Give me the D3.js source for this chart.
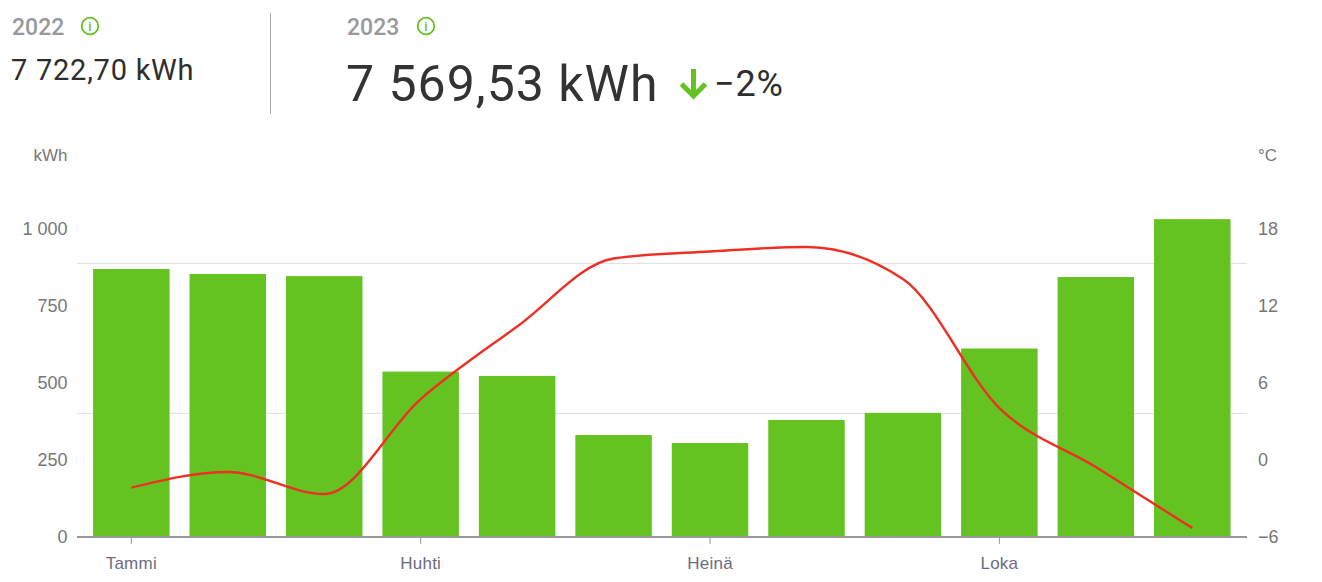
<!DOCTYPE html>
<html><head><meta charset="utf-8">
<script src="https://cdn.jsdelivr.net/npm/d3@7"></script>
<style>html,body{margin:0;padding:0;background:#fff}svg{display:block}text{font-family:"Liberation Sans",sans-serif}</style>
</head><body><svg id="c" width="1322" height="582"></svg>
<script>
const months=["Tammi","Helmi","Maalis","Huhti","Touko","Kesä","Heinä","Elo","Syys","Loka","Marras","Joulu"];
const kwh=[870,854,847,537,523,331,305,380,403,612,844,1032];
const temp=[-2.15,-0.93,-2.65,4.75,10.4,15.7,16.25,16.6,14.1,4.05,-0.55,-5.3];
const kwhTicks=[0,250,500,750,1000];
const tempTicks=[-6,0,6,12,18];
const monthTicks=["Tammi","Huhti","Heinä","Loka"];
const gridKwh=[403,890];
const svg=d3.select("#c");
const x=d3.scaleBand().domain(months).range([83.1,1240.5]).paddingInner(0.207).paddingOuter(0.1035);
const yL=d3.scaleLinear().domain([0,1000]).range([537,229]);
const yR=d3.scaleLinear().domain([-6,18]).range([537,229]);
const cx=m=>x(m)+x.bandwidth()/2;
const fmt=v=>v>=1000?d3.format(",")(v).replace(","," "):String(v);
svg.append("g").selectAll("line").data(gridKwh).join("line").attr("x1",77).attr("x2",1247)
 .attr("y1",d=>yL(d)+.5).attr("y2",d=>yL(d)+.5).attr("stroke","#e0e0e0");
svg.append("g").selectAll("rect").data(months).join("rect").attr("x",d=>x(d)).attr("width",x.bandwidth())
 .attr("y",(d,i)=>yL(kwh[i])).attr("height",(d,i)=>537-yL(kwh[i])).attr("fill","#64c320");
svg.append("line").attr("x1",77).attr("x2",1247).attr("y1",537).attr("y2",537).attr("stroke","#999").attr("stroke-width",1.8);
svg.append("g").selectAll("line").data(monthTicks).join("line").attr("x1",cx).attr("x2",cx).attr("y1",537).attr("y2",544).attr("stroke","#999");
svg.append("path").datum(temp).attr("fill","none").attr("stroke","#ee2f24").attr("stroke-width",2.4)
 .attr("d",d3.line().x((d,i)=>cx(months[i])).y(d=>yR(d)).curve(d3.curveMonotoneX));
const t=(s,a,y,size,fill,anchor)=>svg.append("text").text(s).attr("x",a).attr("y",y).attr("font-size",size).attr("fill",fill).attr("text-anchor",anchor||"start").attr("dominant-baseline","central");
kwhTicks.forEach(v=>t(fmt(v),67.5,yL(v),18,"#777","end"));
tempTicks.forEach(v=>t(String(v).replace("-","−"),1258,yR(v),18,"#777"));
t("kWh",67.5,155,17,"#777","end");
t("°C",1258,155,17,"#777");
monthTicks.forEach(m=>t(m,cx(m),563,17,"#6a6d80","middle").style("letter-spacing","0.25px"));
const H="Roboto, sans-serif";
t("2022",12,27,23,"#98999c").style("font-family",H).style("font-weight",500);
t("2023",347,27,23,"#98999c").style("font-family",H).style("font-weight",500);
t("7 722,70 kWh",11,70,29,"#2e2e2e").style("font-family",H).style("letter-spacing","0.75px");
t("7 569,53 kWh",346,84,50,"#333").style("font-family",H).style("letter-spacing","1px");
t("−2%",714,84,36,"#2e2e2e").style("font-family",H).style("letter-spacing","0.8px");
[90,426].forEach(c=>{
 svg.append("circle").attr("cx",c).attr("cy",26).attr("r",8.3).attr("fill","none").attr("stroke","#64c320").attr("stroke-width",1.8);
 t("i",c,26.5,13,"#64c320","middle").style("font-family",H).style("font-weight",500);
});
svg.append("line").attr("x1",270.5).attr("x2",270.5).attr("y1",13).attr("y2",114).attr("stroke","#aaa");
svg.append("path").attr("d","M693.5 69V96M681.5 84L693.5 96L705.5 84").attr("fill","none").attr("stroke","#64c320").attr("stroke-width",5);
</script></body></html>
